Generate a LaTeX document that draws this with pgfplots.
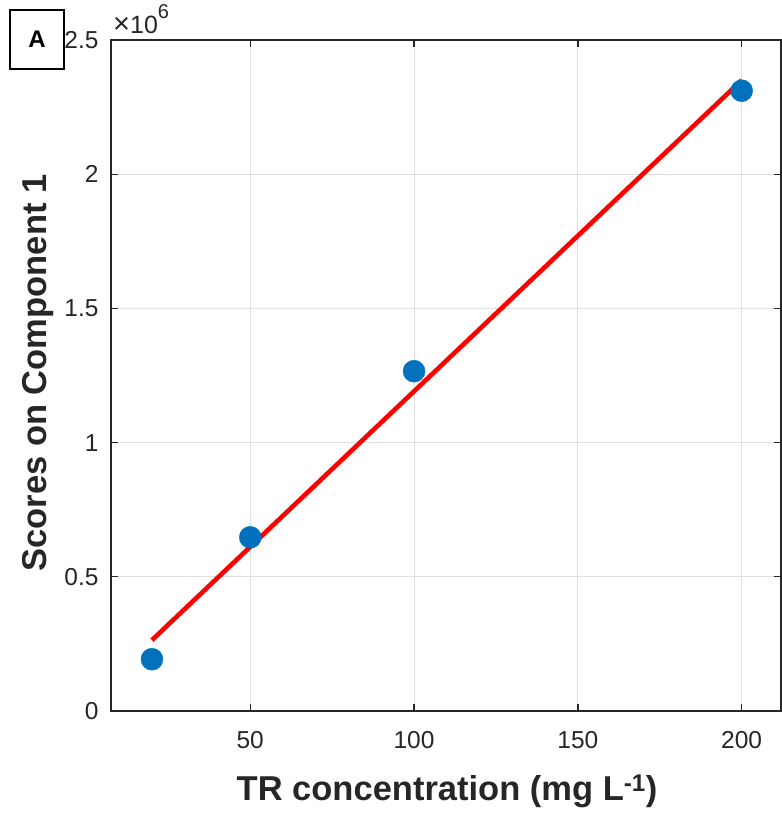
\documentclass[border=0pt]{standalone}
\usepackage{fontspec}
\setmainfont{Liberation Sans}
\usepackage{pgfplots}
\pgfplotsset{compat=1.18}
\definecolor{mblue}{RGB}{0,114,189}
\definecolor{axgray}{RGB}{38,38,38}
\definecolor{gridgray}{RGB}{223,223,223}

\begin{document}
\begin{tikzpicture}[x=1pt,y=1pt]
\useasboundingbox (-111,-106) rectangle (671,711);
\begin{axis}[
  at={(0,0)}, anchor=south west,
  scale only axis, width=670pt, height=671pt,
  xmin=7.5, xmax=212, ymin=0, ymax=2500000,
  xtick={50,100,150,200},
  ytick={0,500000,1000000,1500000,2000000,2500000},
  yticklabels={0,0.5,1,1.5,2,2.5},
  scaled y ticks=false,
  grid=major,
  major grid style={color=gridgray, line width=1pt},
  axis line style={axgray, line width=1.3pt},
  tick style={axgray, line width=1.3pt},
  major tick length=7pt,
  tick align=inside,
  xtick pos=both, ytick pos=both,
  xticklabel pos=lower, yticklabel pos=left,
  tick label style={font=\fontsize{24.5}{24.5}\selectfont, color=axgray},
  xticklabel style={yshift=-17pt},
  yticklabel style={xshift=-9pt},
  /pgf/number format/assume math mode=true,
]
% measured scores
\addplot[only marks, mark=*, mark size=11pt, mark options={fill=mblue, draw=mblue}]
  coordinates {(20,193000) (50,647000) (100,1266000) (200,2311000)};
% least-squares calibration line
\addplot[red, line width=4.6pt]
  coordinates {(20,264000) (200,2350000)};
\end{axis}
% axis titles
\node[font=\fontsize{34.5}{34.5}\selectfont\bfseries, text=axgray, anchor=base] at (336,-89.5)
  {TR concentration (mg L\textsuperscript{-1})};
\node[font=\fontsize{34.5}{34.5}\selectfont\bfseries, text=axgray, rotate=90, anchor=base] at (-64.5,338)
  {Scores on Component 1};
% exponent of the y scale
\node[font=\fontsize{25}{25}\selectfont, text=axgray, anchor=base west, inner sep=0pt] at (2,677.7)
  {{\fontsize{29}{29}\selectfont\texttimes}10\raisebox{15pt}{\fontsize{20}{20}\selectfont 6}};
% panel tag
\draw[black, line width=1.3pt] (-101,642) rectangle (-47,701);
\node[font=\fontsize{24}{24}\selectfont\bfseries] at (-74,671.5) {A};
\end{tikzpicture}
\end{document}
